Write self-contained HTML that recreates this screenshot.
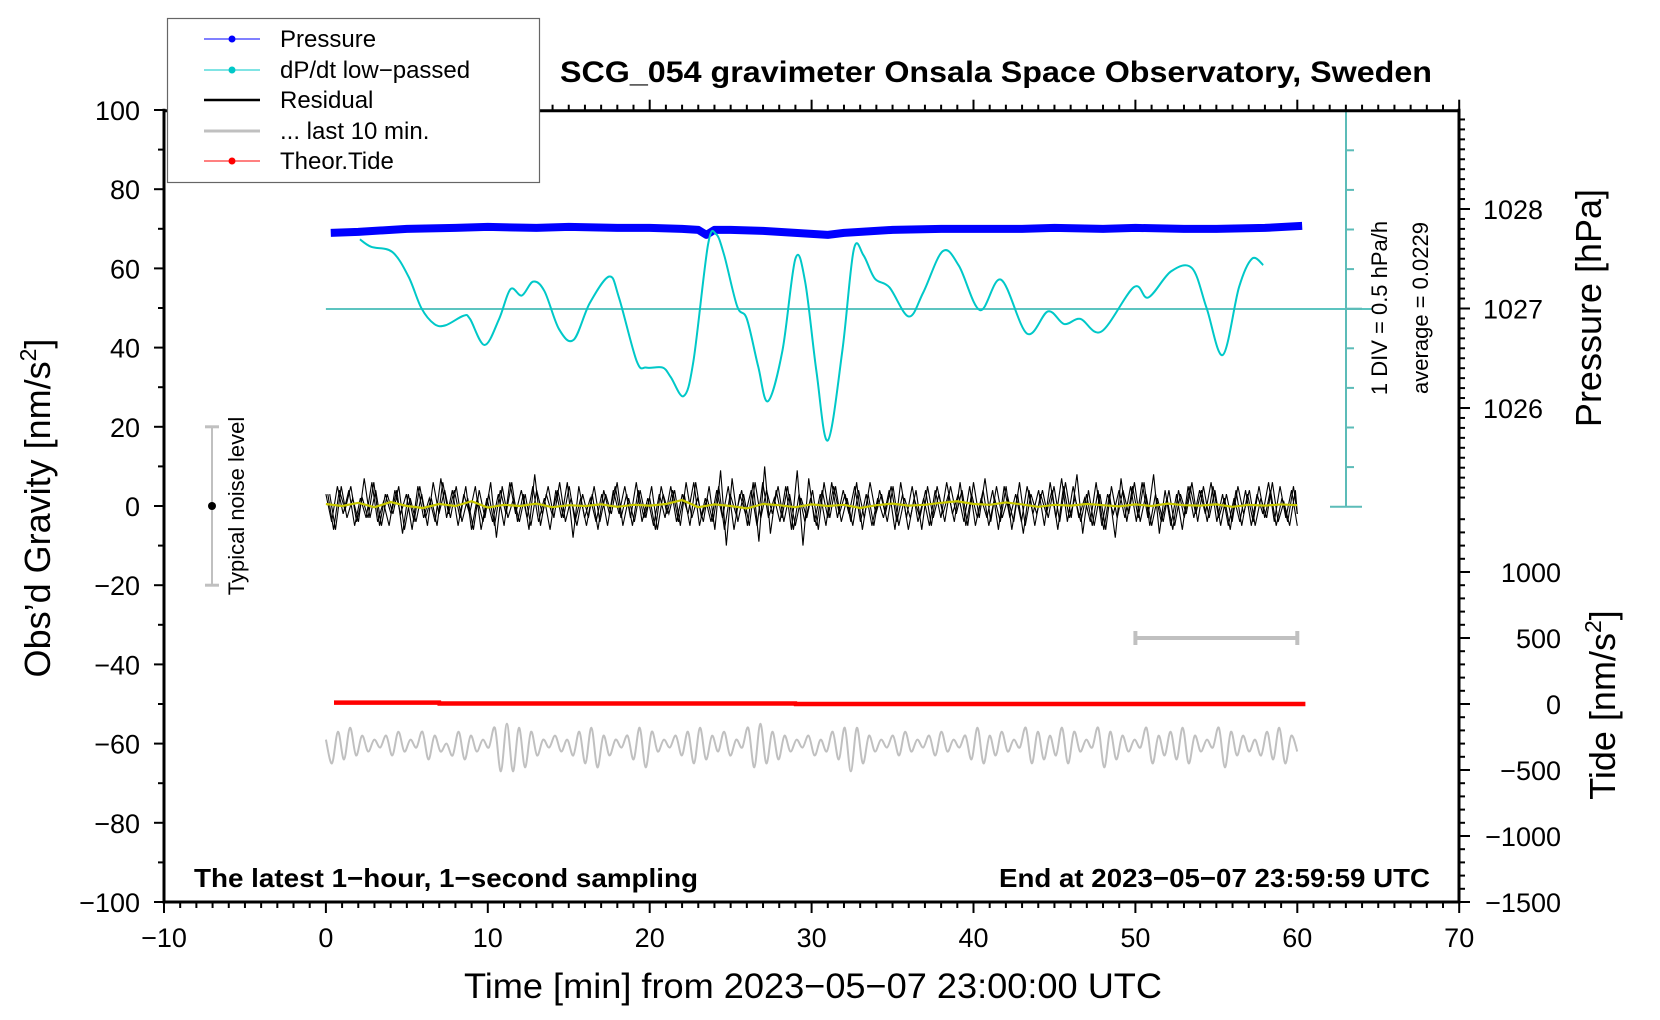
<!DOCTYPE html>
<html><head><meta charset="utf-8"><style>
html,body{margin:0;padding:0;background:#fff;}
svg{display:block;font-family:"Liberation Sans",sans-serif;}
</style></head><body>
<svg id="chart" width="1660" height="1020" viewBox="0 0 1660 1020" xmlns="http://www.w3.org/2000/svg">
<rect width="1660" height="1020" fill="#fff"/>
<g id="marks"></g>
<g id="axes"></g>
</svg>
<script>
// ---- data ----
const pressureTimes = [0.3,2,5,8,10,13,15,18,20,22,23,23.5,24,25,27,29,30,31,32,33,35,38,40,43,45,48,50,53,55,58,60.3];
const pressureValues = [1027.76,1027.77,1027.80,1027.81,1027.82,1027.81,1027.82,1027.81,1027.81,1027.80,1027.79,1027.74,1027.79,1027.79,1027.78,1027.76,1027.75,1027.74,1027.76,1027.77,1027.79,1027.80,1027.80,1027.80,1027.81,1027.80,1027.81,1027.80,1027.80,1027.81,1027.83];
const dpdtTimes = [2.1,2.8,4.1,5.1,5.9,6.7,7.4,8.5,8.9,9.8,10.7,11.4,12.1,12.8,13.5,14.4,15.3,16.3,17.5,18.1,19.2,19.8,20.8,21.3,22.1,22.7,23.6,24.1,24.6,25.4,26,26.7,27.3,28.2,29,29.6,30.3,31,31.9,32.6,33.2,33.9,34.8,36,36.9,38.1,39.1,40.4,41.7,43.3,44.6,45.6,46.6,47.9,49.9,50.8,52.2,53.5,54.4,55.4,56.4,57.2,57.9];
const dpdtValues = [0.903,0.808,0.743,0.433,0.033,-0.167,-0.182,-0.062,-0.102,-0.432,-0.102,0.273,0.193,0.368,0.248,-0.232,-0.367,0.098,0.433,0.168,-0.637,-0.717,-0.717,-0.837,-1.077,-0.637,0.833,0.968,0.703,0.058,-0.102,-0.702,-1.142,-0.502,0.658,0.368,-0.767,-1.637,-0.502,0.768,0.703,0.408,0.298,-0.072,0.233,0.753,0.568,0.008,0.393,-0.287,-0.007,-0.167,-0.102,-0.262,0.298,0.168,0.498,0.538,0.033,-0.557,0.298,0.658,0.578];
const dpdtAverage = 0.0229;
const residualValues = [3,-4,5,-2,4,-5,2,-3,6,-4,1,-5,4,-2,3,-6,5,-3,2,-4,7,-3,4,-5,3,-2,5,-6,2,-4,3,-5,6,-2,4,-3,5,-4,2,-6,4,-3,6,-8,5,-3,2,-4,3,-5,4,-2,5,-3,6,-4,2,-5,3,-3,5,-4,3,-2,6,-5,2,-4,4,-3,5,-6,3,-2,4,-5,6,-3,2,-4,5,-6,9,-10,7,-4,3,-5,6,-3,4,-2,5,-4,3,-5,2,-3,4,-6,6,-3,5,-4,2,-5,4,-3,6,-2,3,-4,5,-5,2,-3,4,-6,5,-3,3,-4,5,-2,4,-5,6,-3,7,-4,5,-3,2,-4,6,-5,3,-2,4,-3,5,-4,6,-3,8,-7,4,-5,3,-6,5,-3,4,-2,6,-4,3,-5,2,-4,4,-5,3,-2,6,-4,5,-3,4,-5];
const smoothValues = [0.5,0,0.8,-0.3,1,0,-0.5,0.5,0,1.2,-0.4,0.3,0,0.6,-0.3,0.2,0,0.4,-0.2,0.3,0.1,0.5,1.5,-0.3,0.4,0,-0.6,0.5,0.2,-0.3,0.4,0,0.3,-0.5,0.2,0.6,0.1,0.3,0.8,1.2,0.5,0.3,0.9,0.4,-0.2,0.3,0.1,0.5,0.2,-0.1,0.4,0,0.6,0.2,0.1,0.4,-0.2,0.3,0.1,0.4,0.2];
const lastTenValues = [-59,-65,-57,-64,-56,-63,-58,-62,-59,-61,-58,-63,-57,-62,-59,-61,-57,-64,-58,-62,-60,-63,-57,-64,-58,-62,-59,-61,-56,-67,-55,-67,-56,-66,-57,-63,-59,-61,-58,-62,-59,-63,-57,-65,-56,-66,-58,-63,-59,-61,-58,-64,-56,-66,-57,-62,-59,-61,-58,-63,-57,-65,-56,-64,-58,-62,-57,-63,-59,-61,-56,-66,-55,-65,-57,-64,-58,-62,-59,-61,-58,-63,-59,-62,-57,-64,-56,-67,-56,-65,-58,-62,-59,-61,-58,-63,-57,-62,-59,-61,-58,-63,-57,-62,-59,-61,-58,-64,-56,-65,-58,-63,-57,-62,-59,-61,-56,-65,-57,-64,-58,-63,-56,-65,-57,-62,-59,-61,-56,-66,-57,-64,-58,-62,-59,-61,-56,-65,-58,-63,-57,-64,-56,-65,-58,-62,-59,-61,-56,-66,-57,-63,-58,-62,-59,-63,-57,-64,-56,-65,-58,-62];
const tideTimes = [0.5,7,7.01,29,29.01,60.5];
const tideValues = [10,10,4,4,0,0];
const gravityTicks = [100,80,60,40,20,0,-20,-40,-60,-80,-100];
const timeTicks = [-10,0,10,20,30,40,50,60,70];
const pressureTicks = [1028,1027,1026];
const tideTicks = [1000,500,0,-500,-1000,-1500];

// ---- scales ----
const X = t => 164 + (t + 10) * 16.19;
const G = g => 506 - g * 3.96;
const P = p => 209 - (p - 1028) * 99.5;
const T = v => 704 - v * 0.132;
const D = v => 309 - (v - dpdtAverage) / 0.5 * 39.6;

const NS = "http://www.w3.org/2000/svg";
const marks = document.getElementById('marks');
const axes = document.getElementById('axes');
function mk(tag, attrs, parent, txt){
  const e = document.createElementNS(NS, tag);
  for (const k in attrs) e.setAttribute(k, attrs[k]);
  if (txt !== undefined) e.textContent = txt;
  (parent || marks).appendChild(e);
  return e;
}
function smoothPath(pts){
  let d = `M${pts[0][0]},${pts[0][1]}`;
  for (let i = 0; i < pts.length - 1; i++){
    const p0 = pts[Math.max(0,i-1)], p1 = pts[i], p2 = pts[i+1], p3 = pts[Math.min(pts.length-1,i+2)];
    const c1x = p1[0] + (p2[0]-p0[0])/6, c1y = p1[1] + (p2[1]-p0[1])/6;
    const c2x = p2[0] - (p3[0]-p1[0])/6, c2y = p2[1] - (p3[1]-p1[1])/6;
    d += ` C${c1x},${c1y} ${c2x},${c2y} ${p2[0]},${p2[1]}`;
  }
  return d;
}

// dP/dt average line
let e = mk('line', {x1: X(0), x2: 1372, y1: D(dpdtAverage), y2: D(dpdtAverage), stroke: '#5cc4c0', 'stroke-width': 2});



// dP/dt scale bar
const sg = mk('g', {});


mk('line', {x1: 1346, x2: 1346, y1: 110.7, y2: 506.7, stroke: '#5cbcb8', 'stroke-width': 2}, sg);
for (let i = 0; i <= 10; i++){
  const y = 110.7 + i * 39.6;
  const w = (i === 0 || i === 10 || i === 5) ? 16 : 8;
  mk('line', {x1: (i===0||i===10)?1330:1346, x2: 1346 + w, y1: y, y2: y, stroke: '#5cbcb8', 'stroke-width': 2}, sg);
}
mk('text', {x: 0, y: 0, 'font-size': 22, 'text-anchor': 'middle', transform: 'translate(1387,308) rotate(-90)'}, sg, '1 DIV = 0.5 hPa/h');
mk('text', {x: 0, y: 0, 'font-size': 22, 'text-anchor': 'middle', transform: 'translate(1428,308) rotate(-90)'}, sg, 'average = 0.0229');

// pressure
e = mk('path', {d: pressureTimes.map((t,i)=>(i?'L':'M')+X(t)+','+P(pressureValues[i])).join(' '), fill: 'none', stroke: '#0000ff', 'stroke-width': 8, 'stroke-linejoin': 'round'});



// dP/dt low-passed
e = mk('path', {d: smoothPath(dpdtTimes.map((t,i)=>[X(t), D(dpdtValues[i])])), fill: 'none', stroke: '#00c8c8', 'stroke-width': 2});



// residual (dense: drawn in three interleaved passes)
const rn = residualValues.length;
const rstep = 60 / (rn - 1);
[0, 1/3, 2/3].forEach((ph, k) => {
  const sgn = k === 1 ? -1 : 1;
  e = mk('path', {d: residualValues.map((v,i)=>(i?'L':'M')+X(Math.min(60, (i + ph) * rstep))+','+G(sgn * residualValues[(i + k * 7) % rn])).join(' '), fill: 'none', stroke: '#000', 'stroke-width': 1.1});
  
  
});
e = mk('path', {d: smoothValues.map((v,i)=>(i?'L':'M')+X(i*60/(smoothValues.length-1))+','+G(v)).join(' '), fill: 'none', stroke: '#c8c800', 'stroke-width': 2.2});



// last 10 min
e = mk('path', {d: smoothPath(lastTenValues.map((v,i)=>[X(i*60/(lastTenValues.length-1)), G(v)])), fill: 'none', stroke: '#c0c0c0', 'stroke-width': 2});


const lb = mk('g', {});


mk('line', {x1: X(50), x2: X(60), y1: T(500), y2: T(500), stroke: '#c0c0c0', 'stroke-width': 4}, lb);
mk('line', {x1: X(50), x2: X(50), y1: T(500)-7, y2: T(500)+7, stroke: '#c0c0c0', 'stroke-width': 4}, lb);
mk('line', {x1: X(60), x2: X(60), y1: T(500)-7, y2: T(500)+7, stroke: '#c0c0c0', 'stroke-width': 4}, lb);

// tide
e = mk('path', {d: tideTimes.map((t,i)=>(i?'L':'M')+X(t)+','+T(tideValues[i])).join(' '), fill: 'none', stroke: '#ff0000', 'stroke-width': 4.5});



// noise level bar
const nb = mk('g', {});


mk('line', {x1: 212, x2: 212, y1: G(20), y2: G(-20), stroke: '#c0c0c0', 'stroke-width': 2}, nb);
mk('line', {x1: 205, x2: 219, y1: G(20), y2: G(20), stroke: '#c0c0c0', 'stroke-width': 3}, nb);
mk('line', {x1: 205, x2: 219, y1: G(-20), y2: G(-20), stroke: '#c0c0c0', 'stroke-width': 3}, nb);
mk('circle', {cx: 212, cy: G(0), r: 4, fill: '#000'}, nb);
mk('text', {x: 0, y: 0, 'font-size': 22, 'text-anchor': 'middle', transform: 'translate(244,506) rotate(-90)'}, nb, 'Typical noise level');

// ---- axes ----
const L = 164, R = 1459, TOP = 110.7, BOT = 902;
const fr = mk('g', {}, axes);


mk('line', {x1: L, x2: L, y1: TOP-2, y2: BOT+1.5, stroke: '#000', 'stroke-width': 3}, fr);
mk('line', {x1: R, x2: R, y1: TOP-2, y2: BOT+1.5, stroke: '#000', 'stroke-width': 3}, fr);
mk('line', {x1: L, x2: R, y1: TOP, y2: TOP, stroke: '#000', 'stroke-width': 3}, fr);
mk('line', {x1: L, x2: R, y1: BOT, y2: BOT, stroke: '#000', 'stroke-width': 3}, fr);

// left axis
const la = mk('g', {}, axes);


for (let g = -100; g <= 100; g += 10){
  const major = g % 20 === 0;
  mk('line', {x1: L - (major ? 10 : 6), x2: L, y1: G(g), y2: G(g), stroke: '#000', 'stroke-width': 2}, la);
}
gravityTicks.forEach(g => mk('text', {x: 140, y: G(g) + 10, 'font-size': 27, 'text-anchor': 'end'}, la, String(g).replace('-', '\u2212')));

// bottom & top axes
const ba = mk('g', {}, axes);


for (let t = -10; t <= 70; t++){
  const major = t % 10 === 0;
  mk('line', {x1: X(t), x2: X(t), y1: BOT, y2: BOT + (major ? 11 : 6), stroke: '#000', 'stroke-width': 2}, ba);
  if (X(t) > 540) mk('line', {x1: X(t), x2: X(t), y1: TOP, y2: TOP - (major ? 11 : 6), stroke: '#000', 'stroke-width': 2}, ba);
}
timeTicks.forEach(t => mk('text', {x: X(t), y: 947, 'font-size': 27, 'text-anchor': 'middle'}, ba, String(t).replace('-', '\u2212')));

// right axis pressure
const pa = mk('g', {}, axes);


for (let i = 0; i <= 39; i++){
  const p = 1028.9 - i * 0.1;
  const y = P(p);
  if (y > 506) break;
  const major = Math.abs(p - Math.round(p)) < 0.01;
  mk('line', {x1: R, x2: R + (major ? 11 : 6), y1: y, y2: y, stroke: '#000', 'stroke-width': 2}, pa);
}
pressureTicks.forEach(p => mk('text', {x: 1483, y: P(p) + 10, 'font-size': 27}, pa, String(p)));

// right axis tide
const ta = mk('g', {}, axes);


for (let v = -1500; v <= 1400; v += 100){
  const major = v % 500 === 0;
  mk('line', {x1: R, x2: R + (major ? 11 : 6), y1: T(v), y2: T(v), stroke: '#000', 'stroke-width': 2}, ta);
}
tideTicks.forEach(v => mk('text', {x: 1561, y: T(v) + 10, 'font-size': 27, 'text-anchor': 'end'}, ta, String(v).replace('-', '\u2212')));
</script>

<svg style="position:absolute;left:0;top:0" width="1660" height="1020" viewBox="0 0 1660 1020" xmlns="http://www.w3.org/2000/svg">
<text x="560" y="82" font-size="30" font-weight="bold" textLength="872" lengthAdjust="spacingAndGlyphs">SCG_054 gravimeter Onsala Space Observatory, Sweden</text>
<text x="464" y="998" font-size="35" textLength="698" lengthAdjust="spacingAndGlyphs">Time [min] from 2023−05−07 23:00:00 UTC</text>
<text x="194" y="887" font-size="26" font-weight="bold" textLength="504" lengthAdjust="spacingAndGlyphs">The latest 1−hour, 1−second sampling</text>
<text x="999" y="887" font-size="26" font-weight="bold" textLength="431" lengthAdjust="spacingAndGlyphs">End at 2023−05−07 23:59:59 UTC</text>
<text transform="translate(50,508) rotate(-90)" font-size="36" text-anchor="middle">Obs’d Gravity [nm/s<tspan font-size="23" dy="-14">2</tspan><tspan dy="14">]</tspan></text>
<text transform="translate(1601,308) rotate(-90)" font-size="36" text-anchor="middle">Pressure [hPa]</text>
<text transform="translate(1615,705) rotate(-90)" font-size="36" text-anchor="middle">Tide [nm/s<tspan font-size="23" dy="-14">2</tspan><tspan dy="14">]</tspan></text>
<g>
<rect x="167.5" y="18.5" width="372" height="164" fill="#fff" stroke="#666" stroke-width="1.2"/>
<g><line x1="204" x2="260" y1="39" y2="39" stroke="#0000ff" stroke-width="1"/><circle cx="232" cy="39" r="3.5" fill="#0000ff"/><text x="280" y="47" font-size="24">Pressure</text></g>
<g><line x1="204" x2="260" y1="70" y2="70" stroke="#00c8c8" stroke-width="1"/><circle cx="232" cy="70" r="3.5" fill="#00c8c8"/><text x="280" y="78" font-size="24">dP/dt low−passed</text></g>
<g><line x1="204" x2="260" y1="100" y2="100" stroke="#000" stroke-width="2.5"/><text x="280" y="108" font-size="24">Residual</text></g>
<g><line x1="204" x2="260" y1="131" y2="131" stroke="#c0c0c0" stroke-width="3"/><text x="280" y="139" font-size="24">... last 10 min.</text></g>
<g><line x1="204" x2="260" y1="161" y2="161" stroke="#ff0000" stroke-width="1"/><circle cx="232" cy="161" r="3.5" fill="#ff0000"/><text x="280" y="169" font-size="24">Theor.Tide</text></g>
</g>
</svg>
</body></html>
